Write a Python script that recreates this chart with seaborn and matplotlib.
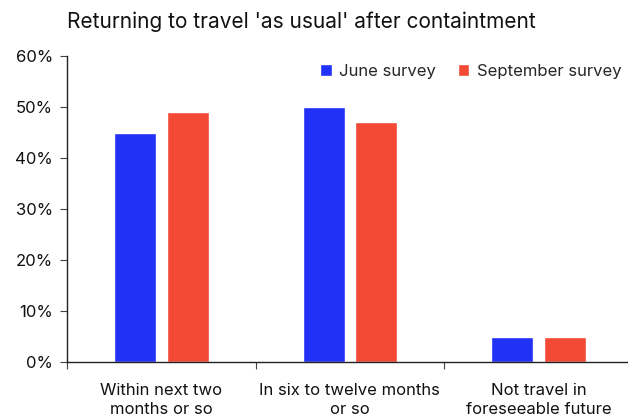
import matplotlib
matplotlib.use("Agg")
import matplotlib.pyplot as plt
import seaborn as sns
import pandas as pd
from matplotlib.ticker import FuncFormatter, FixedLocator

categories = ["Within next two\nmonths or so", "In six to twelve months\nor so", "Not travel in\nforeseeable future"]
june = [0.45, 0.50, 0.05]
september = [0.49, 0.47, 0.05]
series_names = ["June survey", "September survey"]
colors = ["#2131F5", "#F24A35"]

df = pd.DataFrame({
    "category": categories * 2,
    "value": june + september,
    "series": [series_names[0]] * 3 + [series_names[1]] * 3,
})

sns.set_theme(style="white")
plt.rcParams['font.family'] = ['Inter', 'DejaVu Sans']

fig = plt.figure(figsize=(6.28, 4.15), dpi=100)
ax = fig.add_axes([67 / 628, 1 - 362 / 415, 1 - 67 / 628, (362 - 56) / 415])

sns.barplot(data=df, x="category", y="value", hue="series", palette=colors,
            width=0.557, gap=0.2, ax=ax, saturation=1, legend=True)

ax.set_ylim(0, 0.6)
ax.set_xlim(-0.5, 2.475)
ax.yaxis.set_major_locator(FixedLocator([0, 0.1, 0.2, 0.3, 0.4, 0.5, 0.6]))
ax.yaxis.set_major_formatter(FuncFormatter(lambda v, p: f"{v*100:.0f}%"))
ax.set_xlabel("")
ax.set_ylabel("")

for s in ["top", "right"]:
    ax.spines[s].set_visible(False)
for s in ["left", "bottom"]:
    ax.spines[s].set_color("#222222")
    ax.spines[s].set_linewidth(1.0)

ax.tick_params(axis="y", which="major", left=True, length=5, width=0.8, color="#444444",
               labelsize=12, labelcolor="#111111", pad=5)
ax.tick_params(axis="x", which="major", bottom=False, labelsize=12, labelcolor="#111111", pad=9)
ax.xaxis.set_minor_locator(FixedLocator([-0.5, 0.5, 1.5]))
ax.tick_params(axis="x", which="minor", bottom=True, length=5, width=0.8, color="#444444")
for lab in ax.get_xticklabels():
    lab.set_ha("center")
    lab.set_linespacing(1.35)

leg = ax.legend(loc="center right", bbox_to_anchor=(1.0, 0.95), ncol=2, frameon=False,
                fontsize=12, handlelength=0.7, handleheight=0.7, handletextpad=0.45,
                columnspacing=1.3, borderaxespad=0.0)

fig.text(67 / 628, 0.947, "Returning to travel 'as usual' after containtment", ha="left",
         va="center", fontsize=15, color="#111111")

fig.savefig("out.png", dpi=100)
